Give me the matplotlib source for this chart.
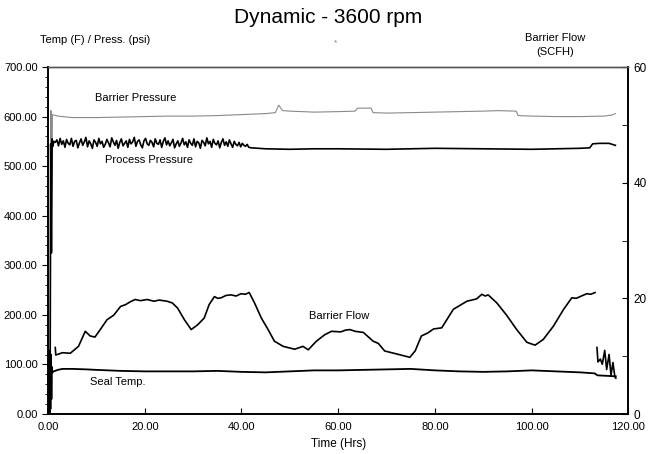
import numpy as np
import matplotlib
matplotlib.use('Agg')
import matplotlib.pyplot as plt
from matplotlib.ticker import MultipleLocator, FormatStrFormatter

plt.rcParams['font.family'] = ['Liberation Sans', 'DejaVu Sans']

# Barrier pressure (psi, left axis)
bp_time = [0.5, 0.6, 0.75, 0.9, 2, 5, 10, 15, 20, 25, 30, 35, 40, 45, 47, 47.7, 48.5, 50, 55,
           60, 63.5, 64, 66.8, 67.2, 70, 75, 80, 85, 90, 93, 96.8, 97.2, 100, 105, 110, 115, 116.5, 117.3]
bp_vals = [0, 612, 330, 604, 601, 598, 598, 599, 600, 601, 601, 602, 604, 606, 608, 623, 612, 611, 609,
           610, 611, 617, 617, 608, 607, 608, 609, 610, 611, 612, 611, 602, 601, 600, 600, 601, 603, 606]

# Process pressure (psi, left axis) - noisy section sampled every 1/3 hr from 1.5 to 41.5
pp_start_time = [0.4, 0.55, 0.7, 0.85, 1.0, 1.2]
pp_start_vals = [0, 545, 325, 555, 540, 550]
pp_noise_vals = [548, 553, 541, 556, 544, 551, 538, 554, 546, 543, 556, 540, 550, 552, 537, 547,
                 555, 542, 549, 558, 539, 551, 545, 536, 553, 548, 540, 556, 545, 550, 538, 544,
                 554, 547, 539, 557, 549, 542, 552, 536, 548, 555, 541, 546, 551, 538, 554, 545,
                 549, 558, 540, 550, 553, 543, 537, 551, 556, 545, 542, 552, 548, 539, 555, 546,
                 544, 553, 538, 550, 557, 543, 551, 541, 547, 554, 537, 545, 551, 540, 547, 556,
                 543, 549, 538, 553, 546, 542, 555, 539, 550, 547, 536, 552, 548, 541, 557, 545,
                 550, 538, 554, 546, 543, 551, 537, 548, 555, 542, 549, 540, 553, 545, 538, 550,
                 544, 541, 548, 539, 546, 542, 540, 544, 538]
pp_end_time = [42, 45, 50, 55, 60, 70, 80, 90, 100, 110, 112, 112.6, 114, 116, 117.3]
pp_end_vals = [537, 535, 534, 535, 535, 534, 536, 535, 534, 536, 537, 545, 546, 546, 542]

# Seal temperature (F, left axis)
st_time = [0.3, 0.4, 0.5, 0.6, 0.7, 0.8, 0.9, 1.2, 2, 3, 5, 8, 10, 15, 20, 25, 30, 35, 40, 45,
           50, 55, 60, 65, 70, 75, 80, 85, 90, 95, 100, 105, 110, 113, 113.6, 117.4]
st_vals = [0, 128, 10, 120, 30, 95, 84, 86, 89, 91, 91, 90, 89, 87, 86, 86, 86, 87, 85, 84,
           86, 88, 88, 89, 90, 91, 88, 86, 85, 86, 88, 86, 84, 82, 78, 76]

# Barrier flow (SCFH, right axis)
bf_time = [1.5, 1.6, 3, 4.6, 6.3, 7.7, 8.7, 9.7, 10.8, 12.2, 13.6, 15, 16, 17, 18, 19.1, 20.5, 21.9,
           23, 24.6, 25.7, 26.8, 28.2, 29.6, 30.9, 32.3, 33.3, 34.4, 35.1, 35.8, 36.8, 37.8, 38.9,
           39.9, 40.8, 41.6, 42.7, 44.1, 45.5, 46.8, 48.6, 51, 52.7, 53.8, 55.5, 57.2, 58.6, 60.5,
           61.5, 62.4, 63.5, 65.2, 67.2, 68.3, 69.6, 72, 74.8, 75.9, 77.2, 78.5, 79.7, 81.4, 83.8,
           85.2, 86.6, 88.6, 89.7, 90.4, 91, 92.8, 94.8, 96.9, 99, 100.7, 102.4, 104.5, 106.6,
           108.3, 109.2, 110, 111.4, 112.2, 113.1,
           113.2, 113.5, 113.7, 114.2, 114.6, 115.1, 115.5, 116.0, 116.4, 116.8, 117.2, 117.4]
bf_vals = [11.5, 10.2, 10.6, 10.5, 11.7, 14.3, 13.5, 13.3, 14.6, 16.3, 17.1, 18.6, 18.9, 19.4,
           19.8, 19.6, 19.8, 19.5, 19.7, 19.5, 19.2, 18.3, 16.3, 14.6, 15.4, 16.6, 18.9, 20.3, 20.0,
           20.1, 20.5, 20.6, 20.4, 20.8, 20.7, 21.0, 19.2, 16.6, 14.6, 12.6, 11.7, 11.2, 11.7, 11.1,
           12.6, 13.7, 14.3, 14.2, 14.5, 14.6, 14.3, 14.1, 12.6, 12.2, 10.9, 10.4, 9.8, 10.9, 13.5,
           14.0, 14.7, 14.9, 18.1, 18.8, 19.5, 19.9, 20.7, 20.4, 20.6, 19.2, 17.1, 14.6, 12.4, 11.9,
           12.9, 15.2, 18.1, 20.1, 20.0, 20.3, 20.8, 20.7, 21.0,
           np.nan, 11.5, 9.0, 9.5, 8.6, 11.0, 7.7, 10.3, 6.7, 8.9, 6.4, 6.2]

pp_noise_time = np.arange(len(pp_noise_vals)) / 3 + 1.5
pp_time = list(pp_start_time) + list(pp_noise_time) + pp_end_time
pp_vals = pp_start_vals + pp_noise_vals + pp_end_vals

fig = plt.figure(figsize=(6.57, 4.54), dpi=100)
ax = fig.add_axes([0.0731, 0.0881, 0.8834, 0.7643])
ax2 = ax.twinx()

ax.plot(bp_time, bp_vals, color='#8a8a8a', lw=0.8)
ax.plot(pp_time, pp_vals, color='black', lw=1.2)
ax.plot(st_time, st_vals, color='black', lw=1.3)
ax2.plot(bf_time, bf_vals, color='black', lw=1.2)

ax.set_xlim(0, 120)
ax.set_ylim(0, 700)
ax2.set_ylim(0, 60)

ax.xaxis.set_major_locator(MultipleLocator(20))
ax.xaxis.set_major_formatter(FormatStrFormatter('%.2f'))
ax.yaxis.set_major_locator(MultipleLocator(100))
ax.yaxis.set_minor_locator(MultipleLocator(20))
ax.yaxis.set_major_formatter(FormatStrFormatter('%.2f'))
ax2.yaxis.set_major_locator(MultipleLocator(20))
ax2.yaxis.set_minor_locator(MultipleLocator(10))

ax.tick_params(axis='x', direction='in', length=4, labelsize=8, pad=6)
ax.tick_params(axis='y', which='major', direction='out', length=4, labelsize=8)
ax.tick_params(axis='y', which='minor', direction='out', length=2.5)
ax2.tick_params(axis='y', which='both', direction='in', length=4, labelsize=8.5)

for a in (ax, ax2):
    for s in a.spines.values():
        s.set_linewidth(1.2)
    a.spines['top'].set_color('#555555')
    a.spines['top'].set_linewidth(1.0)

ax.text(9.8, 638, 'Barrier Pressure', fontsize=8, va='center')
ax.text(11.8, 512, 'Process Pressure', fontsize=8, va='center')
ax.text(54, 198, 'Barrier Flow', fontsize=8, va='center')
ax.text(8.7, 64, 'Seal Temp.', fontsize=8, va='center')

ax.set_xlabel('Time (Hrs)', fontsize=8.5, labelpad=4)

fig.text(0.5, 0.962, 'Dynamic - 3600 rpm', ha='center', va='center', fontsize=15)
fig.text(0.061, 0.911, 'Temp (F) / Press. (psi)', ha='left', va='center', fontsize=8)
fig.text(0.845, 0.90, 'Barrier Flow\n(SCFH)', ha='center', va='center', fontsize=8, linespacing=1.5)
fig.text(0.511, 0.906, '*', ha='center', va='center', fontsize=6, color='#777777')

fig.savefig('out.png', dpi=100)
